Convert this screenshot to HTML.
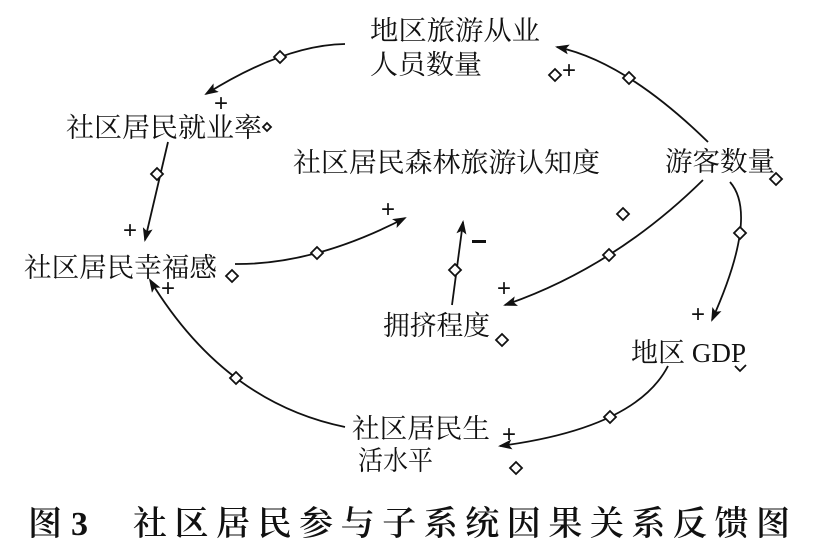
<!DOCTYPE html>
<html><head><meta charset="utf-8"><style>
html,body{margin:0;padding:0;background:#fff;}
svg{display:block;}
text{font-family:"Liberation Serif","Noto Serif CJK SC",serif;fill:#111;}
.d{fill:#fff;stroke:#111;stroke-width:1.8;}
.l{fill:none;stroke:#111;stroke-width:1.8;}
.p{font-family:"Liberation Sans",sans-serif;font-size:24px;}
</style></head><body>
<svg width="816" height="552" viewBox="0 0 816 552" xmlns="http://www.w3.org/2000/svg">
<defs>
<marker id="a" markerWidth="14" markerHeight="10" refX="12" refY="5" orient="auto" markerUnits="userSpaceOnUse">
<path d="M0,0 L14,5 L0,10 L3,5 Z" fill="#111"/>
</marker>
<g id="dm"><path d="M0,-6 L6,0 L0,6 L-6,0 Z" class="d"/></g>
</defs>

<text x="370" y="40" font-size="27" textLength="170" lengthAdjust="spacingAndGlyphs">地区旅游从业</text>
<text x="370" y="74" font-size="27" textLength="112" lengthAdjust="spacingAndGlyphs">人员数量</text>
<text x="66" y="137" font-size="27" textLength="196" lengthAdjust="spacingAndGlyphs">社区居民就业率</text>
<text x="293" y="172" font-size="27" textLength="307" lengthAdjust="spacingAndGlyphs">社区居民森林旅游认知度</text>
<text x="665" y="171" font-size="27" textLength="110" lengthAdjust="spacingAndGlyphs">游客数量</text>
<text x="24" y="277" font-size="27" textLength="193" lengthAdjust="spacingAndGlyphs">社区居民幸福感</text>
<text x="383" y="335" font-size="27" textLength="107" lengthAdjust="spacingAndGlyphs">拥挤程度</text>
<text x="631" y="362" font-size="27" textLength="115" lengthAdjust="spacingAndGlyphs">地区 GDP</text>
<text x="352" y="438" font-size="27" textLength="138" lengthAdjust="spacingAndGlyphs">社区居民生</text>
<text x="358" y="470" font-size="27" textLength="75" lengthAdjust="spacingAndGlyphs">活水平</text>

<text x="28" y="535" font-size="34" font-weight="600" textLength="60" lengthAdjust="spacing">图 3</text>
<text x="133" y="535" font-size="34" font-weight="600" textLength="657" lengthAdjust="spacing">社区居民参与子系统因果关系反馈图</text>

<path class="l" marker-end="url(#a)" d="M345,44 Q284.5,45 206,94"/>
<path class="l" marker-end="url(#a)" d="M168,142 L145,240"/>
<path class="l" marker-end="url(#a)" d="M235,264 Q314,265 405,218"/>
<path class="l" marker-end="url(#a)" d="M452,305 L463,222"/>
<path class="l" marker-end="url(#a)" d="M703,180 Q614,267.5 505,305"/>
<path class="l" marker-end="url(#a)" d="M708,142 Q625.5,61.5 557,47"/>
<path class="l" marker-end="url(#a)" d="M730,182 Q759,215 712,320"/>
<path class="l" marker-end="url(#a)" d="M668,366 Q636,428 500,446"/>
<path class="l" marker-end="url(#a)" d="M345,427 Q224.5,402.5 150,280"/>

<use href="#dm" x="280" y="57"/>
<use href="#dm" x="157" y="174"/>
<use href="#dm" x="317" y="253"/>
<use href="#dm" x="455" y="270"/>
<use href="#dm" x="609" y="255"/>
<use href="#dm" x="629" y="78"/>
<use href="#dm" x="740" y="233"/>
<use href="#dm" x="610" y="417"/>
<use href="#dm" x="236" y="378"/>
<use href="#dm" x="623" y="214"/>
<use href="#dm" x="555" y="75"/>
<use href="#dm" x="232" y="276"/>
<use href="#dm" x="502" y="340"/>
<use href="#dm" x="776" y="179"/>
<use href="#dm" x="516" y="468"/>
<path class="d" d="M263,127 L267,123 L271,127 L267,131 Z"/>
<path fill="none" stroke="#111" stroke-width="1.8" d="M735,366 L740,371 L746,365"/>

<text class="p" x="214" y="111">+</text>
<text class="p" x="123" y="238">+</text>
<text class="p" x="381" y="217">+</text>
<text class="p" x="161" y="296">+</text>
<text class="p" x="562" y="78">+</text>
<text class="p" x="497" y="296">+</text>
<text class="p" x="691" y="322">+</text>
<text class="p" x="502" y="442">+</text>
<rect x="472" y="240" width="14" height="3" fill="#111"/>
</svg>
</body></html>
